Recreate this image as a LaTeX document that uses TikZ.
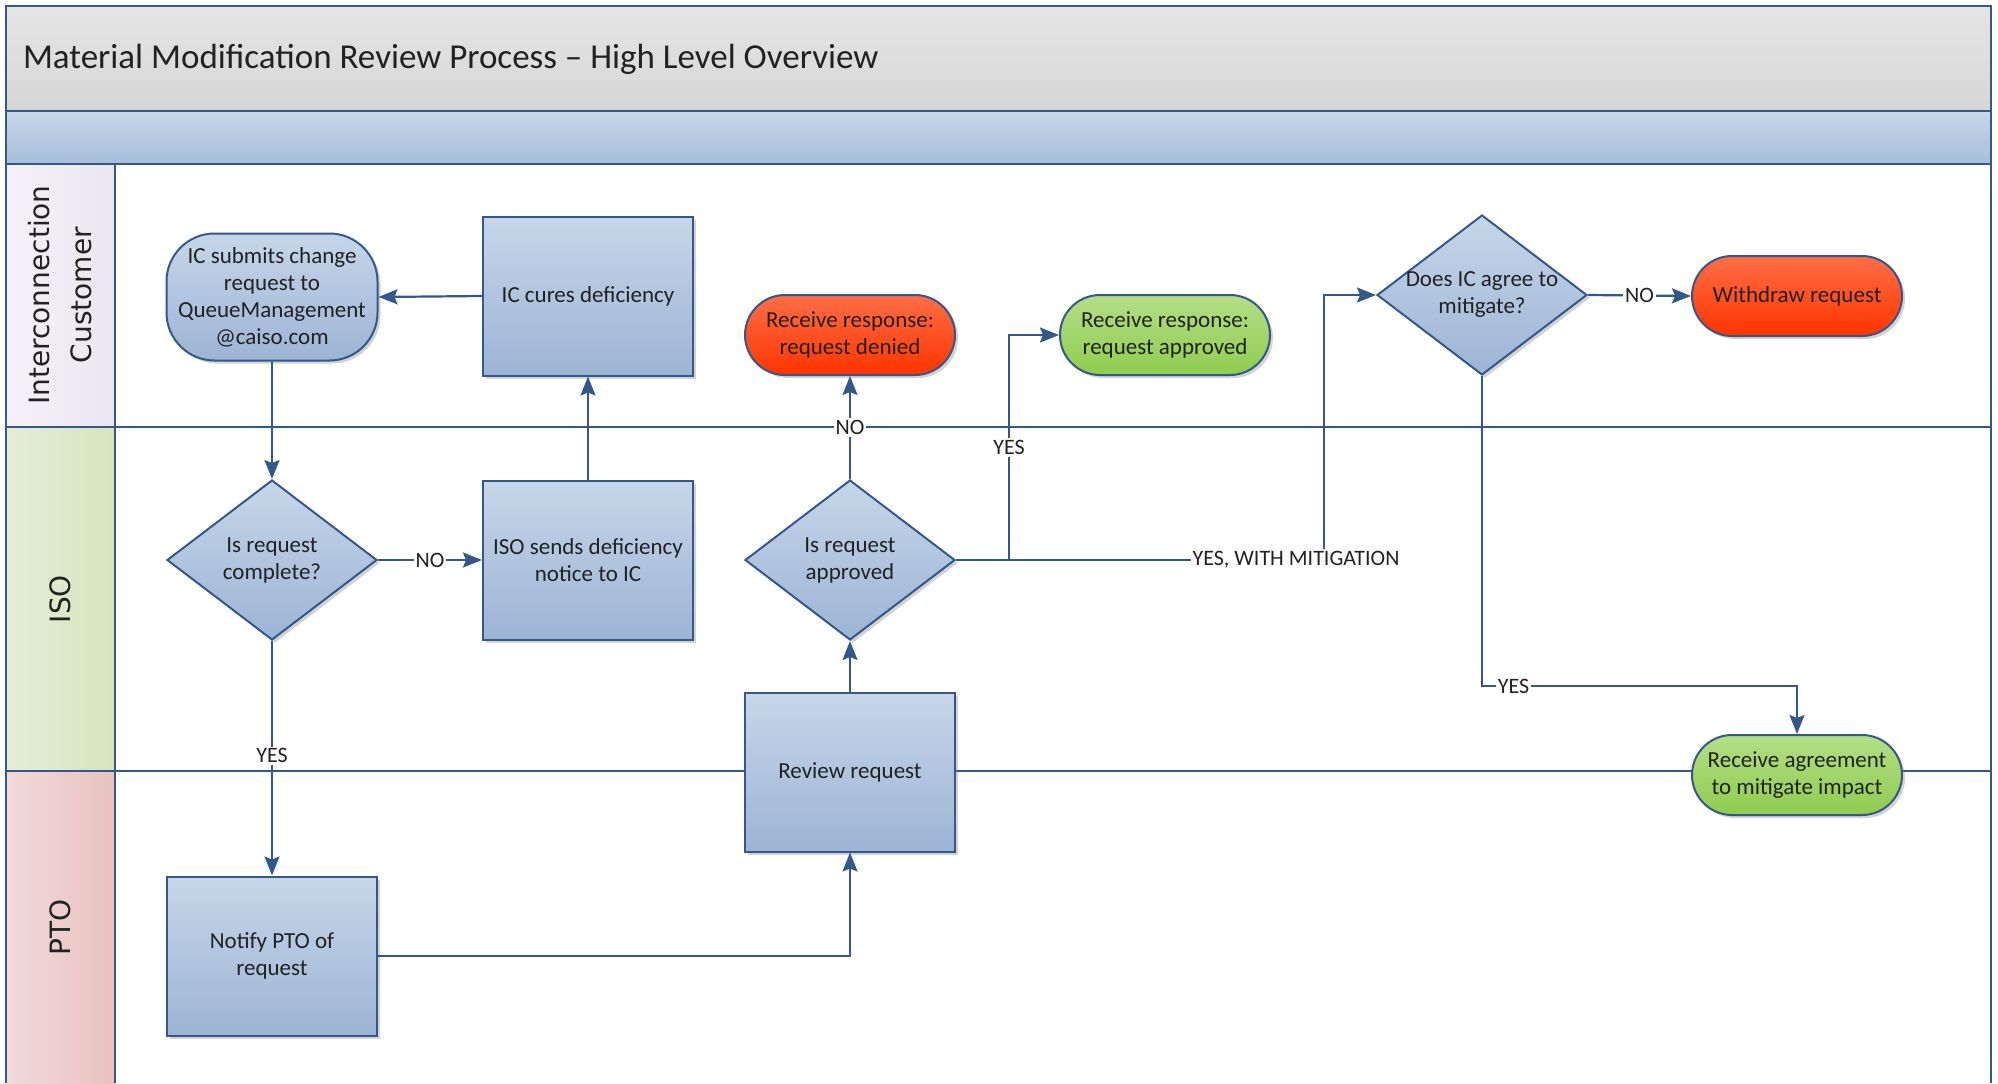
\documentclass[tikz,border=0pt]{standalone}
\usepackage{fontspec}
\setmainfont{Carlito}
\newfontfamily\lanefont{DejaVu Sans}
\usetikzlibrary{shapes.geometric,arrows.meta,shadows}
\definecolor{frameblue}{RGB}{52,88,138}
\definecolor{txtgray}{RGB}{34,34,34}
\definecolor{procTop}{RGB}{199,214,233}
\definecolor{procBot}{RGB}{156,180,213}
\definecolor{redTop}{RGB}{255,110,70}
\definecolor{redBot}{RGB}{255,52,0}
\definecolor{greenTop}{RGB}{180,222,135}
\definecolor{greenBot}{RGB}{143,204,78}
\definecolor{titleTop}{RGB}{229,229,229}
\definecolor{titleBot}{RGB}{214,214,214}
\definecolor{bandTop}{RGB}{200,215,233}
\definecolor{bandBot}{RGB}{166,189,219}

\begin{document}
\begin{tikzpicture}
[x=0.5pt,y=-0.5pt,
every node/.style={font=\fontsize{11.5}{13.5}\selectfont,text=txtgray,align=center},
shade/.style={drop shadow={shadow xshift=1.5pt,shadow yshift=-1.5pt,opacity=0.35}},
proc/.style={shade,draw=frameblue,line width=1pt,top color=procTop,bottom color=procBot,
  minimum width=105pt,minimum height=79.5pt,inner sep=1pt},
ask/.style={proc,diamond,inner sep=-6pt,minimum width=105pt,minimum height=80pt},
term/.style={shade,draw=frameblue,line width=1pt,rounded corners=20pt,
  minimum width=105pt,minimum height=40pt,inner sep=1pt},
bad/.style={term,top color=redTop,bottom color=redBot},
good/.style={term,top color=greenTop,bottom color=greenBot},
lane/.style={draw=frameblue,line width=1.3pt},
flow/.style={draw=frameblue,line width=1.1pt,-{Stealth[length=9.5pt,width=7.5pt,inset=1.5pt]}},
lbl/.style={fill=white,inner sep=1pt,font=\fontsize{11}{13}\selectfont}]
\useasboundingbox (0,0) rectangle (1998,1083);

\fill[top color=titleTop,bottom color=titleBot] (6,6) rectangle (1991,111);
\fill[top color=bandTop,bottom color=bandBot] (6,111) rectangle (1991,164);
\fill[left color={rgb,255:red,244;green,242;blue,247},right color={rgb,255:red,234;green,230;blue,241}] (6,164) rectangle (115,427);
\fill[left color={rgb,255:red,229;green,237;blue,216},right color={rgb,255:red,216;green,228;blue,190}] (6,427) rectangle (115,771);
\fill[left color={rgb,255:red,242;green,218;blue,218},right color={rgb,255:red,232;green,194;blue,192}] (6,771) rectangle (115,1083);
\draw[lane] (6,1083) -- (6,6) -- (1991,6) -- (1991,1083);
\foreach \y in {111,164,427,771}
  \draw[lane] (6,\y) -- (1991,\y);
\draw[lane] (115,164) -- (115,1083);

\node[anchor=base west,font=\fontsize{17.5}{20}\selectfont] (title) at (16,68)
  {Material Modification Review Process \textendash{} High Level Overview};
\node[rotate=90,font=\lanefont\fontsize{14}{21}\selectfont] (laneic) at (60,295) {Interconnection\\Customer};
\node[rotate=90,font=\lanefont\fontsize{14}{21}\selectfont] (laneiso) at (60,599) {ISO};
\node[rotate=90,font=\lanefont\fontsize{14}{21}\selectfont] (lanepto) at (60,927) {PTO};

\node[term,top color=procTop,bottom color=procBot,minimum width=105.5pt,minimum height=63.5pt,rounded corners=24pt] (submit) at (272,297)
  {IC submits change\\request to\\QueueManagement\\@caiso.com};
\node[proc] (cure) at (588,296) {IC cures deficiency};
\node[bad] (denied) at (850,335) {Receive response:\\request denied};
\node[good] (ok) at (1165,335) {Receive response:\\request approved};
\node[ask] (agree) at (1482,295) {Does IC agree to\\mitigate?};
\node[bad] (wd) at (1797,296) {Withdraw request};
\node[ask] (complete) at (272,560) {Is request\\complete?};
\node[proc] (send) at (588,560) {ISO sends deficiency\\notice to IC};
\node[ask] (appr) at (850,560) {Is request\\approved};
\node[proc] (review) at (850,772) {Review request};
\node[good] (mit) at (1797,775) {Receive agreement\\to mitigate impact};
\node[proc] (notify) at (272,956) {Notify PTO of\\request};

\draw[flow] (submit.south) -- (complete.north);
\draw[flow] (complete.east) -- (send.west) node[lbl,midway] {NO};
\draw[flow] (send.north) -- (cure.south);
\draw[flow] (cure.west) -- (submit.east);
\draw[flow] (complete.south) -- (notify.north) node[lbl,pos=0.49] {YES};
\draw[flow] (notify.east) -| (review.south);
\draw[flow] (review.north) -- (appr.south);
\draw[flow] (appr.north) -- (denied.south) node[lbl,pos=0.5] {NO};
\draw[flow] (appr.east) -- ++(53,0) |- (ok.west) node[lbl,pos=0.25] {YES};
\draw[flow] (appr.east) -- ++(368,0) node[lbl,pos=0.924] {YES, WITH MITIGATION} |- (agree.west);
\draw[flow] (agree.east) -- (wd.west) node[lbl,midway] {NO};
\draw[flow] (agree.south) -- ++(0,310) -| (mit.north) node[lbl,pos=0.05] {YES};
\end{tikzpicture}
\end{document}
